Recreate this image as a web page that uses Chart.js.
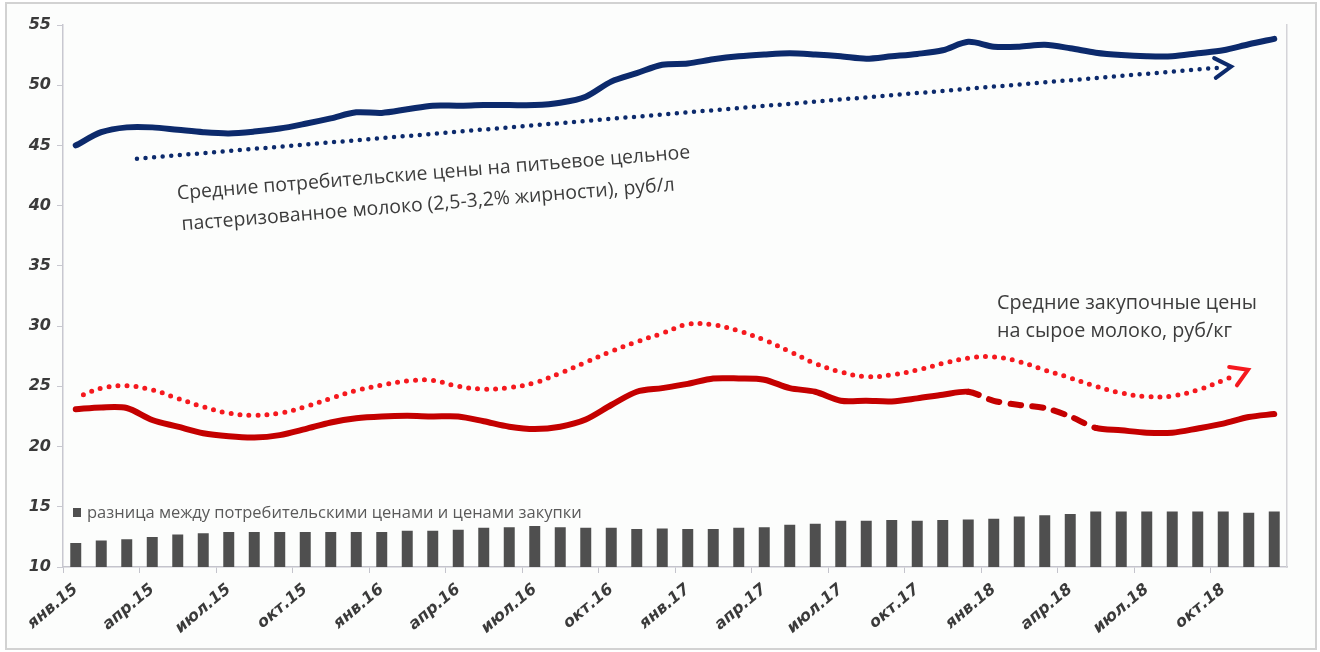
<!DOCTYPE html>
<html lang="ru">
<head>
<meta charset="utf-8">
<title>Цены на молоко</title>
<script src="https://cdn.jsdelivr.net/npm/chart.js@4.4.1/dist/chart.umd.min.js"></script>
<style>
    html, body { margin: 0; padding: 0; background: #ffffff; }
    canvas { display: block; }
</style>
</head>
<body>
<canvas id="milkChart" width="1320" height="652"></canvas>
<script>
// Категории: месяцы янв.15 - дек.18
const monthNames = ['янв', 'фев', 'мар', 'апр', 'май', 'июн', 'июл', 'авг', 'сен', 'окт', 'ноя', 'дек'];
const yearSuffixes = ['15', '16', '17', '18'];
const categories = [];
yearSuffixes.forEach(y => monthNames.forEach(m => categories.push(m + '.' + y)));

// Шкала Y
const yMin = 10;
const yMax = 55;
const yStep = 5;

// Средние потребительские цены на молоко, руб/л
const consumerPrices = [
    45.0, 46.1, 46.5, 46.5, 46.3, 46.1, 46.0, 46.15, 46.4, 46.8, 47.25, 47.75,
    47.7, 48.0, 48.3, 48.3, 48.35, 48.35, 48.35, 48.55, 49.05, 50.3, 51.0, 51.7,
    51.8, 52.15, 52.4, 52.55, 52.65, 52.55, 52.4, 52.2, 52.4, 52.6, 52.9, 53.6,
    53.2, 53.2, 53.35, 53.07, 52.7, 52.5, 52.4, 52.4, 52.65, 52.9, 53.4, 53.85
];

// Средние закупочные цены на сырое молоко, руб/кг
const purchasePrices = [
    23.1, 23.25, 23.2, 22.2, 21.65, 21.1, 20.85, 20.75, 20.95, 21.45, 22.0, 22.35,
    22.5, 22.55, 22.5, 22.5, 22.1, 21.65, 21.45, 21.65, 22.25, 23.45, 24.55, 24.85,
    25.2, 25.65, 25.65, 25.55, 24.85, 24.55, 23.8, 23.8, 23.75, 24.0, 24.3, 24.55,
    23.8, 23.45, 23.2, 22.5, 21.55, 21.35, 21.15, 21.15, 21.5, 21.9, 22.45, 22.7
];
// участок закупочных цен, показанный пунктиром (индексы месяцев)
const purchaseDashFrom = 35;
const purchaseDashTo = 40;

// Разница между потребительскими ценами и ценами закупки
const priceGap = [
    12.0, 12.2, 12.3, 12.5, 12.7, 12.8, 12.9, 12.9, 12.9, 12.9, 12.9, 12.9,
    12.9, 13.0, 13.0, 13.1, 13.25, 13.3, 13.4, 13.3, 13.25, 13.25, 13.15, 13.2,
    13.15, 13.15, 13.25, 13.3, 13.5, 13.6, 13.85, 13.85, 13.9, 13.85, 13.9, 13.95,
    14.0, 14.2, 14.3, 14.4, 14.6, 14.6, 14.6, 14.6, 14.6, 14.6, 14.5, 14.6
];

// Линии тренда (положение по месяцам, значение)
const consumerTrendX = [2.4, 44.8];
const consumerTrendY = [43.9, 51.45];
const purchaseTrendX = [
    0.3, 1, 2, 3, 4, 5, 6, 7, 8, 9, 10, 11, 12, 13, 14, 15, 16, 17, 18, 19, 20, 21, 22, 23,
    24, 25, 26, 27, 28, 29, 30, 31, 32, 33, 34, 35, 36, 37, 38, 39, 40, 41, 42, 43, 44, 45, 45.5
];
const purchaseTrendY = [
    24.3, 24.85, 25.05, 24.7, 24.0, 23.3, 22.77, 22.6, 22.77, 23.3, 24.0, 24.65, 25.1, 25.45, 25.5, 25.0,
    24.77, 24.9, 25.3, 26.1, 27.0, 27.9, 28.7, 29.4, 30.15, 30.1, 29.6, 28.85, 27.9, 26.9, 26.2, 25.8,
    25.95, 26.35, 26.9, 27.35, 27.45, 27.05, 26.35, 25.7, 25.0, 24.45, 24.15, 24.2, 24.7, 25.5, 25.95
];

// Подписи
const consumerNote = ['Средние потребительские цены на питьевое цельное', 'пастеризованное молоко (2,5-3,2% жирности), руб/л'];
const purchaseNote = ['Средние закупочные цены', 'на сырое молоко, руб/кг'];
const gapLegend = 'разница между потребительскими ценами и ценами закупки';

const NAVY = '#0c2a6c';
const RED = '#c40000';
const RED_DOT = '#f5191e';
const TEXT = '#3c3c3c';
const TICK_FONT = { family: 'DejaVu Sans', size: 16, weight: 'bold', style: 'italic' };

function toPoints(xs, ys) {
    return xs.map((x, i) => ({ x: x, y: ys[i] }));
}

// подобрать размер шрифта под ширину
function fitFont(ctx, text, width, family) {
    ctx.font = '20px ' + family;
    const size = 20 * width / ctx.measureText(text).width;
    ctx.font = size.toFixed(2) + 'px ' + family;
}

// Рамка и фон
const framePlugin = {
    id: 'frame',
    beforeDraw(chart) {
        const ctx = chart.ctx;
        ctx.save();
        ctx.fillStyle = '#ffffff';
        ctx.fillRect(0, 0, chart.width, chart.height);
        ctx.fillStyle = '#fcfdfc';
        ctx.fillRect(6, 3, 1310, 646);
        ctx.strokeStyle = '#d2d2d2';
        ctx.lineWidth = 2;
        ctx.strokeRect(6, 3, 1310, 646);
        ctx.restore();
    }
};

// Стрелки на концах линий тренда
const arrowPlugin = {
    id: 'arrows',
    afterDatasetsDraw(chart) {
        const ctx = chart.ctx;
        chart.data.datasets.forEach((ds, di) => {
            if (!ds.arrowColor) return;
            const pts = chart.getDatasetMeta(di).data;
            const a = pts[pts.length - 2], b = pts[pts.length - 1];
            const ang = Math.atan2(b.y - a.y, b.x - a.x);
            const tipX = b.x + Math.cos(ang) * 13;
            const tipY = b.y + Math.sin(ang) * 13;
            const len = 19, spread = 0.55;
            ctx.save();
            ctx.strokeStyle = ds.arrowColor;
            ctx.lineWidth = 4;
            ctx.lineCap = 'round';
            ctx.lineJoin = 'miter';
            ctx.beginPath();
            ctx.moveTo(tipX - Math.cos(ang - spread) * len, tipY - Math.sin(ang - spread) * len);
            ctx.lineTo(tipX, tipY);
            ctx.lineTo(tipX - Math.cos(ang + spread) * len, tipY - Math.sin(ang + spread) * len);
            ctx.stroke();
            ctx.restore();
        });
    }
};

// Текстовые подписи и легенда
const notesPlugin = {
    id: 'notes',
    afterDraw(chart) {
        const ctx = chart.ctx;
        const fam = '"Open Sans", sans-serif';
        ctx.save();
        ctx.fillStyle = TEXT;
        ctx.textBaseline = 'middle';
        ctx.textAlign = 'left';

        // подпись к потребительским ценам (слегка наклонена)
        ctx.save();
        ctx.translate(177, 194);
        ctx.rotate(-4.6 * Math.PI / 180);
        fitFont(ctx, consumerNote[0], 515, fam);
        ctx.fillText(consumerNote[0], 0, 0);
        ctx.fillText(consumerNote[1], 2, 31);
        ctx.restore();

        // подпись к закупочным ценам
        fitFont(ctx, purchaseNote[0], 260, fam);
        ctx.fillText(purchaseNote[0], 997, 303);
        ctx.fillText(purchaseNote[1], 997, 331);

        // легенда столбцов
        ctx.fillStyle = '#4f4f4f';
        ctx.fillRect(73, 508, 8, 9);
        ctx.fillStyle = '#5a5a5a';
        fitFont(ctx, gapLegend, 495, fam);
        ctx.fillText(gapLegend, 87, 513);
        ctx.restore();
    }
};

document.addEventListener('DOMContentLoaded', function() {
    const ctx = document.getElementById('milkChart');

    new Chart(ctx, {
        type: 'bar',
        data: {
            labels: categories,
            datasets: [
                {
                    type: 'line',
                    label: 'Средние потребительские цены',
                    data: consumerPrices,
                    borderColor: NAVY,
                    borderWidth: 6,
                    pointRadius: 0,
                    tension: 0.3,
                    borderCapStyle: 'round',
                    order: 1
                },
                {
                    type: 'line',
                    label: 'Средние закупочные цены',
                    data: purchasePrices,
                    borderColor: RED,
                    borderWidth: 6,
                    pointRadius: 0,
                    tension: 0.3,
                    borderCapStyle: 'round',
                    segment: {
                        borderDash: c => (c.p0DataIndex >= purchaseDashFrom && c.p1DataIndex <= purchaseDashTo) ? [11, 11] : undefined
                    },
                    order: 1
                },
                {
                    type: 'line',
                    label: 'Тренд потребительских цен',
                    data: toPoints(consumerTrendX, consumerTrendY),
                    xAxisID: 'xt',
                    borderColor: NAVY,
                    borderWidth: 4.5,
                    borderDash: [0, 8.6],
                    borderCapStyle: 'round',
                    pointRadius: 0,
                    arrowColor: NAVY,
                    order: 2
                },
                {
                    type: 'line',
                    label: 'Тренд закупочных цен',
                    data: toPoints(purchaseTrendX, purchaseTrendY),
                    xAxisID: 'xt',
                    borderColor: RED_DOT,
                    borderWidth: 5,
                    borderDash: [0, 9],
                    borderCapStyle: 'round',
                    pointRadius: 0,
                    tension: 0.4,
                    arrowColor: RED_DOT,
                    order: 2
                },
                {
                    label: gapLegend,
                    data: priceGap,
                    backgroundColor: '#4f4f4f',
                    grouped: false,
                    barPercentage: 0.43,
                    categoryPercentage: 1,
                    order: 5
                }
            ]
        },
        options: {
            responsive: false,
            animation: false,
            layout: { padding: { top: 25, right: 33, left: 0, bottom: 0 } },
            plugins: {
                legend: { display: false },
                tooltip: { enabled: false }
            },
            scales: {
                x: {
                    offset: true,
                    grid: {
                        drawOnChartArea: false,
                        tickLength: 6,
                        color: c => (c.index % 3 === 0 ? '#c4c4cc' : 'rgba(0,0,0,0)')
                    },
                    border: { color: '#c4c4cc', width: 1.5 },
                    ticks: {
                        autoSkip: false,
                        maxRotation: 40,
                        minRotation: 40,
                        padding: 7,
                        color: '#3a3a3a',
                        font: TICK_FONT,
                        callback: (v, i) => (i % 3 === 0 ? categories[i] : '')
                    },
                    afterFit: s => { s.height = 85; }
                },
                xt: {
                    type: 'linear',
                    display: false,
                    offset: false,
                    grid: { offset: false },
                    min: -0.5,
                    max: categories.length - 0.5
                },
                y: {
                    min: yMin,
                    max: yMax,
                    grid: { drawOnChartArea: false, tickLength: 6, color: '#c8c8d0' },
                    border: { color: '#c8c8d0', width: 1.5 },
                    ticks: {
                        stepSize: yStep,
                        padding: 6,
                        color: '#3a3a3a',
                        font: { family: 'DejaVu Sans', size: 16, weight: 'bold', style: 'italic' }
                    },
                    afterFit: s => { s.width = 63; }
                },
                y2: {
                    position: 'right',
                    min: yMin,
                    max: yMax,
                    grid: { drawOnChartArea: false, drawTicks: false },
                    border: { color: '#d4d4d8', width: 1.5 },
                    ticks: { display: false },
                    afterFit: s => { s.width = 0; }
                }
            }
        },
        plugins: [framePlugin, arrowPlugin, notesPlugin]
    });
});
</script>
</body>
</html>
